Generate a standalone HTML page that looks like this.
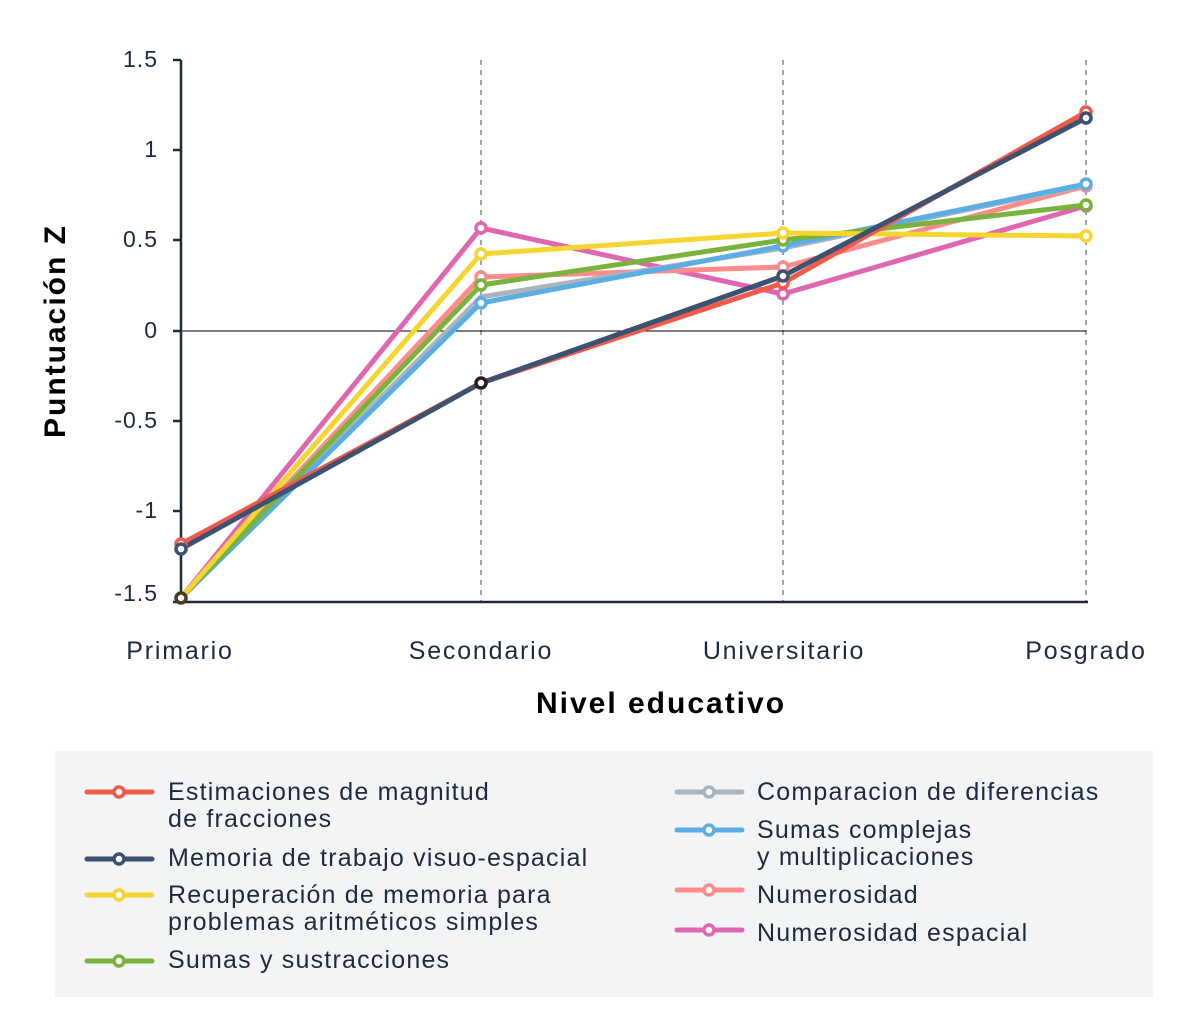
<!DOCTYPE html>
<html><head><meta charset="utf-8"><style>
body{margin:0;background:#fff;}
svg text{font-family:"Liberation Sans",sans-serif;fill:#1d2a3f;}
</style></head><body>
<svg width="1200" height="1029" viewBox="0 0 1200 1029" xmlns="http://www.w3.org/2000/svg">
<g stroke="#7d8796" stroke-width="1.5" stroke-dasharray="5,5">
<line x1="481" y1="60" x2="481" y2="601"/><line x1="783" y1="60" x2="783" y2="601"/><line x1="1086" y1="60" x2="1086" y2="601"/>
</g>
<line x1="181" y1="331" x2="1086" y2="331" stroke="#000" stroke-width="1"/>
<g stroke="#1d2a3f" stroke-width="2.5">
<line x1="181" y1="60" x2="181" y2="602"/>
<line x1="173" y1="602" x2="1088" y2="602"/>
<line x1="173" y1="60" x2="181" y2="60"/><line x1="173" y1="150" x2="181" y2="150"/><line x1="173" y1="240" x2="181" y2="240"/><line x1="173" y1="331" x2="181" y2="331"/><line x1="173" y1="421" x2="181" y2="421"/><line x1="173" y1="511" x2="181" y2="511"/>
</g>
<g font-size="23" text-anchor="end" letter-spacing="1">
<text x="158" y="67">1.5</text><text x="158" y="157">1</text><text x="158" y="247">0.5</text><text x="158" y="338">0</text><text x="158" y="428">-0.5</text><text x="158" y="518">-1</text><text x="158" y="601">-1.5</text>
</g>
<g font-size="25" text-anchor="middle" letter-spacing="1.8">
<text x="180" y="659">Primario</text><text x="481" y="659">Secondario</text><text x="784" y="659">Universitario</text><text x="1086" y="659">Posgrado</text>
</g>
<text x="661" y="713" font-size="30" text-anchor="middle" letter-spacing="2" style="fill:#000;font-weight:bold">Nivel educativo</text>
<text transform="translate(65,331) rotate(-90)" font-size="30" text-anchor="middle" letter-spacing="2" style="fill:#000;font-weight:bold">Puntuación Z</text>
<g fill="none" stroke-width="5" stroke-linejoin="round">
<polyline stroke="#e066b0" points="181,598 481,228 783,294 1086,206"/>
<polyline stroke="#ff8c8c" points="181,598 481,277 783,267 1086,186"/>
<polyline stroke="#aab4bc" points="181,598 481,297 783,248 1086,185"/>
<polyline stroke="#5aaee3" points="181,598 481,303 783,246 1086,184"/>
<polyline stroke="#7ab33b" points="181,598 481,285 783,240 1086,205"/>
<polyline stroke="#f5d630" points="181,598 481,254 783,233 1086,236"/>
<polyline stroke="#f05a4a" points="181,544 481,383 783,283 1086,112"/>
<polyline stroke="#3d5170" points="181,549 481,383 783,276 1086,118"/>
</g>
<g fill="#fff" stroke-width="3.5">
<g stroke="#e066b0"><circle cx="481" cy="228" r="5"/><circle cx="783" cy="294" r="5"/><circle cx="1086" cy="206" r="5"/></g>
<g stroke="#ff8c8c"><circle cx="481" cy="277" r="5"/><circle cx="783" cy="267" r="5"/><circle cx="1086" cy="186" r="5"/></g>
<g stroke="#5aaee3"><circle cx="481" cy="303" r="5"/><circle cx="783" cy="246" r="5"/><circle cx="1086" cy="184" r="5"/></g>
<g stroke="#7ab33b"><circle cx="481" cy="285" r="5"/><circle cx="783" cy="240" r="5"/><circle cx="1086" cy="205" r="5"/></g>
<g stroke="#f5d630"><circle cx="481" cy="254" r="5"/><circle cx="783" cy="233" r="5"/><circle cx="1086" cy="236" r="5"/></g>
<g stroke="#f05a4a"><circle cx="181" cy="544" r="5"/><circle cx="783" cy="283" r="5"/><circle cx="1086" cy="112" r="5"/></g>
<g stroke="#3d5170"><circle cx="181" cy="549" r="5"/><circle cx="783" cy="276" r="5"/><circle cx="1086" cy="118" r="5"/></g>
<circle cx="481" cy="383" r="5" stroke="#2a1a22"/>
<circle cx="181" cy="598" r="5" stroke="#4a3a20"/>
</g>
<rect x="55" y="751" width="1098" height="246" fill="#f3f4f6"/>
<g stroke-width="5" stroke-linecap="round">
<line x1="87" y1="792" x2="152" y2="792" stroke="#f05a4a"/>
<line x1="87" y1="859" x2="152" y2="859" stroke="#3d5170"/>
<line x1="87" y1="895" x2="152" y2="895" stroke="#f5d630"/>
<line x1="87" y1="961" x2="152" y2="961" stroke="#7ab33b"/>
<line x1="677" y1="792" x2="742" y2="792" stroke="#aab4bc"/>
<line x1="677" y1="830" x2="742" y2="830" stroke="#5aaee3"/>
<line x1="677" y1="890" x2="742" y2="890" stroke="#ff8c8c"/>
<line x1="677" y1="930" x2="742" y2="930" stroke="#e066b0"/>
</g>
<g fill="#fff" stroke-width="3.5">
<circle cx="119" cy="792" r="5" stroke="#f05a4a"/><circle cx="119" cy="859" r="5" stroke="#3d5170"/><circle cx="119" cy="895" r="5" stroke="#f5d630"/><circle cx="119" cy="961" r="5" stroke="#7ab33b"/>
<circle cx="709" cy="792" r="5" stroke="#aab4bc"/><circle cx="709" cy="830" r="5" stroke="#5aaee3"/><circle cx="709" cy="890" r="5" stroke="#ff8c8c"/><circle cx="709" cy="930" r="5" stroke="#e066b0"/>
</g>
<g font-size="25" letter-spacing="1.2">
<text x="168" y="800">Estimaciones de magnitud</text><text x="168" y="827">de fracciones</text>
<text x="168" y="866">Memoria de trabajo visuo-espacial</text>
<text x="168" y="903">Recuperación de memoria para</text><text x="168" y="930">problemas aritméticos simples</text>
<text x="168" y="968">Sumas y sustracciones</text>
<text x="757" y="800">Comparacion de diferencias</text>
<text x="757" y="838">Sumas complejas</text><text x="757" y="865">y multiplicaciones</text>
<text x="757" y="903">Numerosidad</text>
<text x="757" y="941">Numerosidad espacial</text>
</g>
</svg>
</body></html>
